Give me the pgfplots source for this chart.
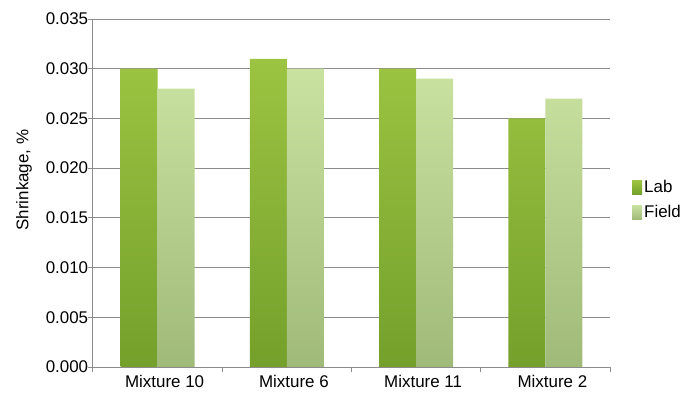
\documentclass[border=0pt]{standalone}
\usepackage{pgfplots}
\pgfplotsset{compat=1.18}
\usepackage{fontspec}
\setmainfont{Liberation Sans}

\definecolor{axisgray}{HTML}{8C8C8C}
\definecolor{labtop}{HTML}{9CC442}
\definecolor{labbot}{HTML}{74A02B}
\definecolor{fieldtop}{HTML}{CAE2A0}
\definecolor{fieldbot}{HTML}{A0BA7A}

\begin{document}
\fontsize{17}{20}\selectfont
\begin{tikzpicture}
\path[use as bounding box] (-93bp,-26bp) rectangle (602bp,367bp);
\begin{axis}[
  at={(0,0)}, anchor=south west,
  scale only axis, width=517bp, height=348bp,
  ybar=0pt, bar width=37bp,
  xmin=-0.5, xmax=3.5, ymin=0, ymax=0.035,
  axis x line=bottom, axis y line=left,
  axis line style={-, axisgray, line width=1bp},
  xtick={-0.5,0.5,1.5,2.5,3.5},
  x tick label as interval,
  xticklabels={Mixture 10, Mixture 6, Mixture 11, Mixture 2},
  ytick={0,0.005,0.010,0.015,0.020,0.025,0.030,0.035},
  scaled y ticks=false,
  /pgf/number format/assume math mode=true,
  y tick label style={/pgf/number format/fixed,
    /pgf/number format/fixed zerofill,
    /pgf/number format/precision=3,
    xshift=6bp},
  x tick label style={yshift=3bp, xshift=7bp},
  tick align=outside, major tick length=5bp,
  tick style={axisgray, line width=1bp},
  ymajorgrids, major grid style={axisgray, line width=1bp},
  ylabel={Shrinkage, \%},
  ylabel style={at={(axis description cs:-0.1335,0.537)}, anchor=center},
  legend style={draw=none, fill=none, at={(1,0.48)}, anchor=west,
    xshift=20bp, row sep=6bp, inner sep=2bp},
  legend cell align=left,
  legend image code/.code={\path[#1] (0bp,-7bp) rectangle (10bp,7bp);},
]
\addplot[draw=none, top color=labtop, bottom color=labbot]
  coordinates {(0,0.030) (1,0.031) (2,0.030) (3,0.025)};
\addplot[draw=none, top color=fieldtop, bottom color=fieldbot]
  coordinates {(0,0.028) (1,0.030) (2,0.029) (3,0.027)};
\legend{Lab, Field}
\end{axis}
\end{tikzpicture}
\end{document}
